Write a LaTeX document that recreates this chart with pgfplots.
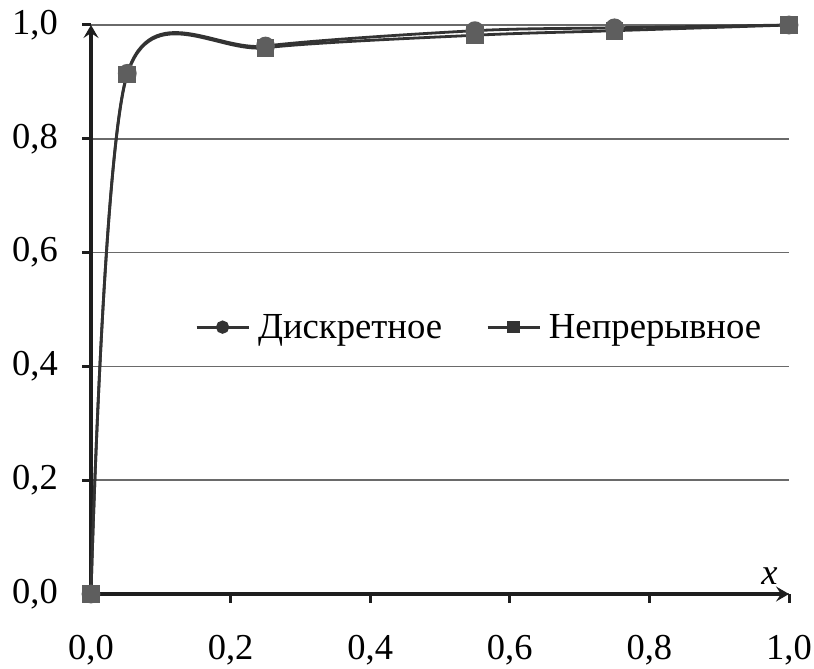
\documentclass[border=0pt]{standalone}
\usepackage{pgfplots}
\pgfplotsset{compat=1.18}
\usepackage{fontspec}
\setmainfont{Liberation Serif}
\usetikzlibrary{arrows.meta}
\definecolor{lin}{HTML}{333333}
\definecolor{mk}{HTML}{5E5E5E}
\definecolor{grd}{HTML}{6A6A6A}
\definecolor{axc}{HTML}{1E1E1E}
\begin{document}
\begin{tikzpicture}
\begin{axis}[
  scale only axis,
  width=698pt, height=569pt,
  xmin=0, xmax=1, ymin=0, ymax=1,
  axis lines=left,
  axis line style={draw=none},
  xtick={0,0.2,0.4,0.6,0.8,1.0},
  ytick={0,0.2,0.4,0.6,0.8,1.0},
  tick align=outside,
  major tick length=9pt,
  tick style={line width=3pt, color=axc},
  ymajorgrids,
  major grid style={line width=1.6pt, color=grd},
  tick label style={font=\fontsize{36.5}{42}\selectfont, inner sep=0pt},
  /pgf/number format/assume math mode=true,
  /pgf/number format/use comma,
  /pgf/number format/fixed,
  /pgf/number format/fixed zerofill,
  /pgf/number format/precision=1,
  xticklabel style={anchor=north, yshift=-32pt},
  yticklabel style={anchor=east, xshift=-24pt},
  clip=false,
  legend style={at={(0.149,0.469)}, anchor=west, draw=none, fill=none, inner sep=0pt,
    font=\fontsize{36.7}{42}\selectfont, legend columns=2,
    nodes={inner sep=0pt},
    /tikz/every odd column/.append style={column sep=8pt},
    /tikz/every even column/.append style={column sep=44pt}},
  legend image code/.code={
    \draw[#1, line width=2.8pt, mark repeat=2, mark phase=2, mark options={scale=0.65}] plot coordinates {(0pt,0pt) (26pt,0pt) (52pt,0pt)};},
]
\draw[line width=3.5pt, axc, -{Stealth[length=13pt,width=15pt,inset=5pt]}] (axis cs:0,0) -- (axis cs:1,0);
\draw[line width=3.5pt, axc, -{Stealth[length=13pt,width=15pt,inset=5pt]}] (axis cs:0,0) -- (axis cs:0,1);
\addplot[smooth, line width=2.8pt, color=lin, mark=*, mark size=8pt,
  mark options={fill=mk, draw=mk}]
  coordinates {(0,0) (0.052,0.915) (0.25,0.963) (0.55,0.99) (0.75,0.995) (1.0,1.0)};
\addlegendentry{Дискретное}
\addplot[smooth, line width=2.8pt, color=lin, mark=square*, mark size=7.5pt,
  mark options={fill=mk, draw=mk}]
  coordinates {(0,0) (0.052,0.913) (0.25,0.96) (0.55,0.982) (0.75,0.99) (1.0,1.0)};
\addlegendentry{Непрерывное}
\node[font=\fontsize{36.5}{42}\selectfont\itshape, anchor=south, inner sep=0pt] at (axis cs:0.972,0.016) {x};
\coordinate (bl) at (rel axis cs:0,0);
\coordinate (tr) at (rel axis cs:1,1);
\end{axis}
\pgfresetboundingbox
\path[use as bounding box] ([shift={(-91pt,-75pt)}]bl) rectangle ([shift={(25pt,25pt)}]tr);
\end{tikzpicture}
\end{document}
